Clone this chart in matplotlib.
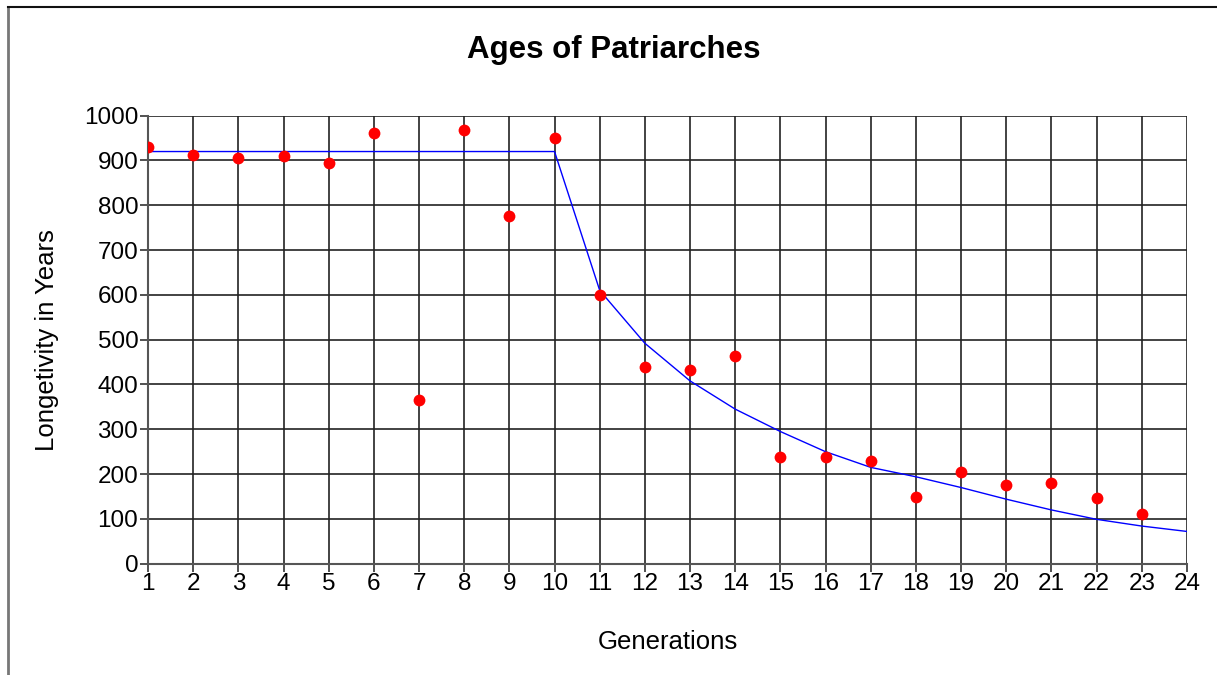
import numpy as np
import matplotlib.pyplot as plt
from matplotlib.lines import Line2D

plt.rcParams['font.family'] = ['Liberation Sans', 'DejaVu Sans']

# ages of the patriarchs, generations 1..23
generations = list(range(1, 24))
ages = [930, 912, 905, 910, 895, 962, 365, 969, 777, 950,
        600, 438, 433, 464, 239, 239, 230, 148, 205, 175,
        180, 147, 110]

# fitted curve, generations 1..24
fit_gen = list(range(1, 25))
fit_age = [920, 920, 920, 920, 920, 920, 920, 920, 920, 920,
           610, 492, 408, 345, 295, 250, 215, 194, 170, 144,
           120, 99, 84, 72]

fig = plt.figure(figsize=(12.17, 6.75), dpi=100)
ax = fig.add_axes([0.1216, 0.1649, 0.8537, 0.6637])

ax.plot(fit_gen, fit_age, color='#0000ff', linewidth=1, zorder=3)
ax.plot(generations, ages, 'o', color='#ff0000', markersize=8.5,
        markeredgewidth=0, zorder=4)

ax.set_xlim(1, 24)
ax.set_ylim(0, 1000)
ax.set_xticks(fit_gen)
ax.set_yticks(np.arange(0, 1001, 100))
ax.grid(True, color='#222222', linewidth=1.2)
ax.set_axisbelow(True)
for s in ['top', 'right']:
    ax.spines[s].set_visible(False)
for s in ['left', 'bottom']:
    ax.spines[s].set_color('#555555')
    ax.spines[s].set_linewidth(1.5)
ax.tick_params(axis='both', labelsize=17.5, length=6, width=1.2,
               color='#333333', pad=1)

fig.text(0.504, 0.926, 'Ages of Patriarches', fontsize=22.5,
         fontweight='bold', ha='center', va='center')
ax.set_xlabel('Generations', fontsize=18.5, labelpad=25)
ax.set_ylabel('Longetivity in Years', fontsize=18.5, labelpad=18)

# chart frame (left and top edges visible)
fig.add_artist(Line2D([0.0066, 0.0066], [0, 0.99], color='#777777',
                      linewidth=2, transform=fig.transFigure))
fig.add_artist(Line2D([0.0066, 1.0], [0.99, 0.99], color='#111111',
                      linewidth=1.5, transform=fig.transFigure))

fig.savefig('out.png', dpi=100)
